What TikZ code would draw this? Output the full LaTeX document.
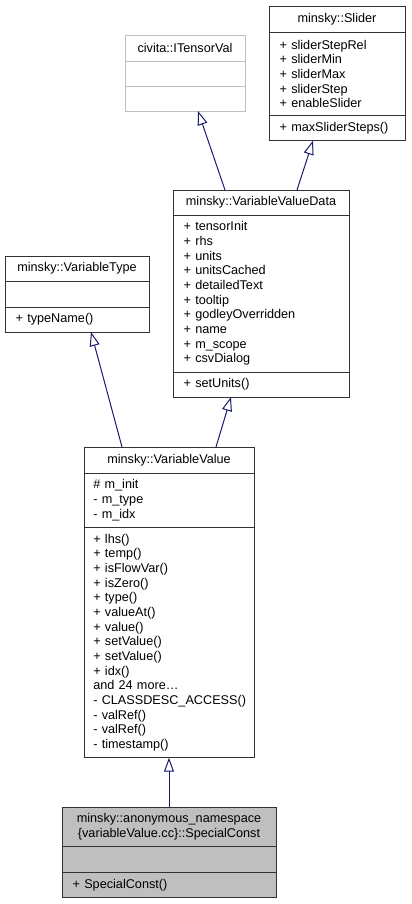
\documentclass[tikz,border=0pt]{standalone}
\usepackage{fontspec}
\setmainfont{Liberation Sans}
\usetikzlibrary{arrows.meta, positioning, calc}
\hyphenpenalty=10000
\exhyphenpenalty=10000
\definecolor{edgeblue}{HTML}{191970}
\definecolor{grey75}{HTML}{BFBFBF}
\tikzset{
  cls/.style={draw=black!80, fill=white, line width=0.75pt, outer sep=0pt,
    inner xsep=8pt, inner ysep=0pt, text width=#1,
    font=\fontsize{9.5}{11}\selectfont},
  title/.style={align=center, minimum height=19.5pt, anchor=north},
  members/.style={align=left},
  lines/.style={minimum height=7.75pt+#1*11pt},
  undoc/.style={draw=grey75},
  current/.style={fill=grey75},
  inherit/.style={draw=edgeblue, line width=0.75pt,
    -{Triangle[open, length=10.5pt, width=7.5pt]}},
}
\begin{document}
\begin{tikzpicture}[x=0.75pt, y=-0.75pt]
  \useasboundingbox (0,0) rectangle (411,904);

  % base classes at the top
  \node[cls=86pt, title] (sl) at (337,6) {minsky::Slider};
  \node[cls=86pt, members, lines=5, below=0pt of sl] (sl-a)
    {+ sliderStepRel\\+ sliderMin\\+ sliderMax\\+ sliderStep\\+ enableSlider};
  \node[cls=86pt, members, lines=1, below=0pt of sl-a] (sl-m) {+ maxSliderSteps()};

  \node[cls=74pt, undoc, title] (itv) at (185,35) {civita::ITensorVal};
  \node[cls=74pt, undoc, members, minimum height=18.75pt, below=0pt of itv] (itv-a) {};
  \node[cls=74pt, undoc, members, minimum height=18.75pt, below=0pt of itv-a] (itv-m) {};

  % middle layer
  \node[cls=116pt, title, minimum height=18.75pt] (vvd) at (261,190) {minsky::VariableValueData};
  \node[cls=116pt, members, lines=10, below=0pt of vvd] (vvd-a)
    {+ tensorInit\\+ rhs\\+ units\\+ unitsCached\\+ detailedText\\+ tooltip\\
     + godleyOverridden\\+ name\\+ m\_scope\\+ csvDialog};
  \node[cls=116pt, members, lines=1, below=0pt of vvd-a] (vvd-m) {+ setUnits()};

  \node[cls=92pt, title, minimum height=18.75pt] (vt) at (77,256) {minsky::VariableType};
  \node[cls=92pt, members, minimum height=19.5pt, below=0pt of vt] (vt-a) {};
  \node[cls=92pt, members, lines=1, below=0pt of vt-a] (vt-m) {+ typeName()};

  \node[cls=113.5pt, inner xsep=7pt, title] (vv) at (169,447) {minsky::VariableValue};
  \node[cls=113.5pt, inner xsep=7pt, members, lines=3, below=0pt of vv] (vv-a)
    {\# m\_init\\- m\_type\\- m\_idx};
  \node[cls=113.5pt, inner xsep=7pt, members, lines=15, below=0pt of vv-a] (vv-m)
    {+ lhs()\\+ temp()\\+ isFlowVar()\\+ isZero()\\+ type()\\+ valueAt()\\
     + value()\\+ setValue()\\+ setValue()\\+ idx()\\and 24 more\ldots\\
     -~CLASSDESC\_ACCESS()\\- valRef()\\- valRef()\\- timestamp()};

  % the class itself
  \node[cls=144.5pt, current, title, lines=2] (sc) at (169,807)
    {minsky::anonymous\_namespace\\\{variableValue.cc\}::SpecialConst};
  \node[cls=144.5pt, current, members, minimum height=19.5pt, below=0pt of sc] (sc-a) {};
  \node[cls=144.5pt, current, members, lines=1, below=0pt of sc-a] (sc-m) {+ SpecialConst()};

  % inheritance
  \draw[inherit] ([xshift=-27pt]vvd.north) -- ([xshift=9.75pt]itv-m.south);
  \draw[inherit] ([xshift=27pt]vvd.north) -- ([xshift=-18pt]sl-m.south);
  \draw[inherit] ([xshift=-35.25pt]vv.north) -- ([xshift=10.5pt]vt-m.south);
  \draw[inherit] ([xshift=35.25pt]vv.north) -- ([xshift=-22.5pt]vvd-m.south);
  \draw[inherit] (sc.north) -- (vv-m.south);
\end{tikzpicture}
\end{document}
